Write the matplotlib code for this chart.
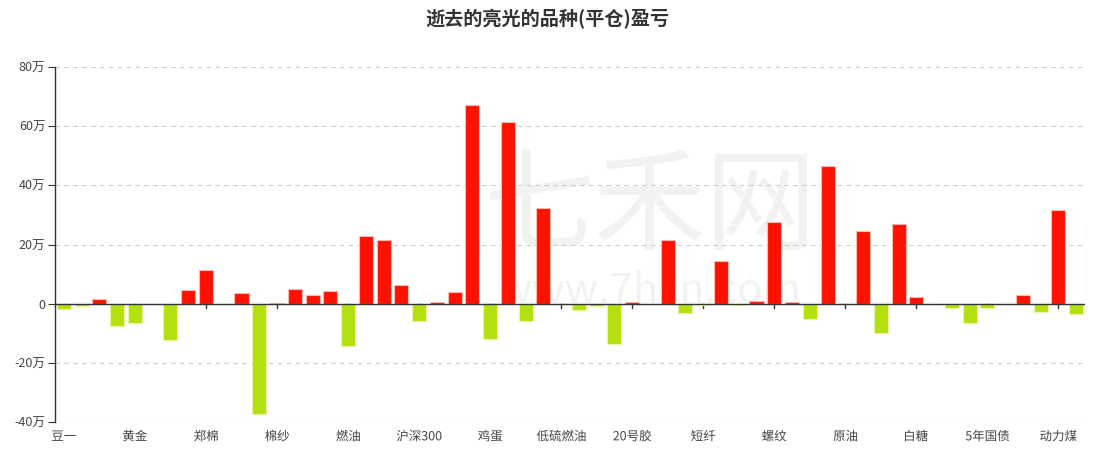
import numpy as np
import matplotlib
matplotlib.use('Agg')
import matplotlib.pyplot as plt
import matplotlib.transforms as mtransforms
from matplotlib.ticker import FuncFormatter
from matplotlib.textpath import TextPath
from matplotlib.patches import PathPatch
from matplotlib.font_manager import FontProperties

plt.rcParams['font.family'] = 'Noto Sans CJK SC'

TITLE = '逝去的亮光的品种(平仓)盈亏'
# labels shown on the axis (every 4th category)
TICK_LABELS = ['豆一', '黄金', '郑棉', '棉纱', '燃油', '沪深300', '鸡蛋', '低硫燃油',
               '20号胶', '短纤', '螺纹', '原油', '白糖', '5年国债', '动力煤']
# profit / loss per category, unit: 万
PNL = [-1.8, -0.9, 1.5, -7.6, -6.7, 0.0, -12.4, 4.7, 11.4, 0.0,
       3.7, -37.3, 0.3, 5.1, 3.0, 4.2, -14.4, 22.8, 21.6, 6.4,
       -5.9, 0.6, 4.0, 67.1, -11.9, 61.4, -5.9, 32.3, 0.0, -2.1,
       -0.9, -13.6, 0.6, 0.0, 21.6, -3.2, -0.5, 14.4, -0.5, 0.9,
       27.5, 0.7, -5.2, 46.6, 0.0, 24.6, -10.0, 26.9, 2.2, 0.0,
       -1.6, -6.5, -1.6, 0.0, 2.9, -2.8, 31.7, -3.4]

RED = '#ff1100'
GREEN = '#b3e00f'

fig = plt.figure(figsize=(10.94, 4.58), dpi=100)
ax = fig.add_axes([0.0503, 0.0786, 0.9415, 0.7751])

vals = np.array(PNL) * 10000
x = np.arange(len(vals))
colors = [RED if v > 0 else GREEN for v in vals]
edges = ['#ffb8b0' if v > 0 else '#eaf7a0' for v in vals]

# watermark
ax.text(0.578, 0.60, '七禾网', transform=ax.transAxes, ha='center', va='center',
        fontsize=80, color='#f2f2f2', zorder=0)
ax.text(0.578, 0.37, 'www.7hcn.com', transform=ax.transAxes, ha='center', va='center',
        fontsize=30, color='#f2f2f2', zorder=0)

ax.bar(x, vals, width=0.79, color=colors, edgecolor=edges, linewidth=0.8, zorder=3)

ax.set_xlim(-0.5, len(vals) - 0.5)
ax.set_ylim(-400000, 800000)
ax.set_yticks(np.arange(-400000, 800001, 200000))
ax.yaxis.set_major_formatter(FuncFormatter(lambda v, p: '0' if v == 0 else f'{int(v / 10000)}万'))
ax.grid(axis='y', linestyle=(0, (4, 4)), color='#cccccc', linewidth=0.8, zorder=1)
ax.set_axisbelow(True)

for s in ['top', 'right', 'bottom']:
    ax.spines[s].set_visible(False)
ax.spines['left'].set_color('#333333')
ax.spines['left'].set_linewidth(1)
ax.axhline(0, color='#333333', linewidth=1, zorder=4)

ax.tick_params(axis='y', length=5, color='#333333', labelcolor='#444444', labelsize=9, pad=2)
ax.set_xticks([])

# category labels drawn as text paths so every label shares one baseline
fp = FontProperties(family='Noto Sans CJK SC', size=9)
for xi, lab in zip(x[::4], TICK_LABELS):
    tp = TextPath((0, 0), lab, prop=fp)
    ext = tp.get_extents()
    cx = (ext.x0 + ext.x1) / 2
    trans = (mtransforms.Affine2D().translate(-cx, -13.2).scale(fig.dpi / 72.0)
             + mtransforms.ScaledTranslation(xi, 0, ax.get_xaxis_transform()))
    ax.add_artist(PathPatch(tp, transform=trans, facecolor='#444444',
                            edgecolor='none', clip_on=False))

# small category ticks hanging below the zero line
for xi in x[::4]:
    ax.plot([xi, xi], [0, -15000], color='#333333', linewidth=1, zorder=2)

fig.text(0.5, 0.958, TITLE, ha='center', va='center', fontsize=13.8,
         fontweight='bold', color='#333333')

fig.savefig('out.png', dpi=100, facecolor='white')
